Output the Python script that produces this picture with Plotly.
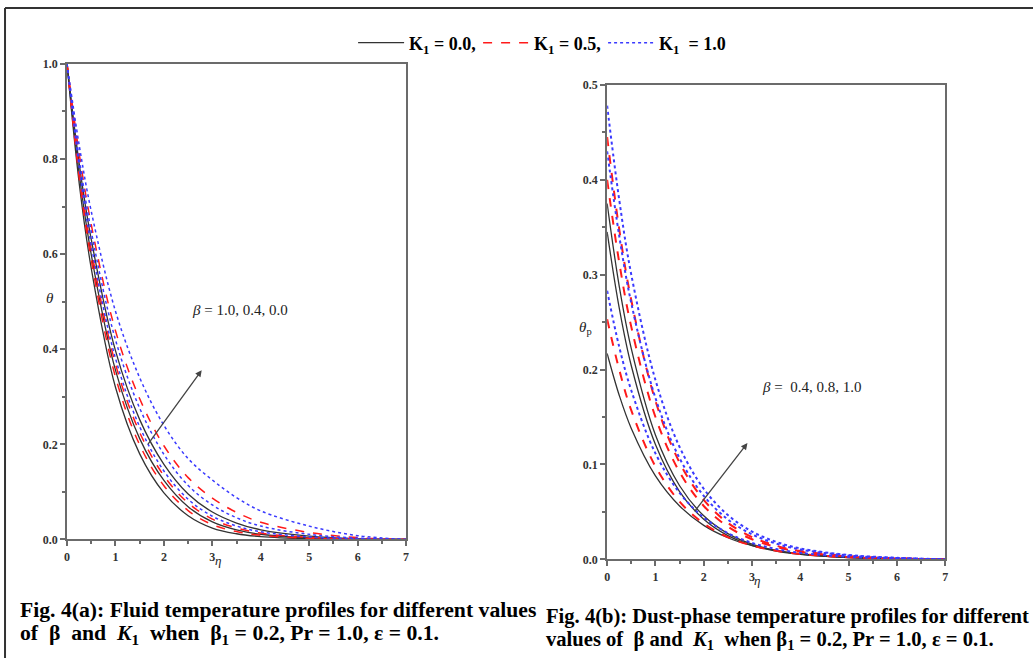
import plotly.graph_objects as go

# ---------------- data ----------------
eta = [0, 0.25, 0.5, 1, 1.5, 2, 2.5, 3, 3.5, 4, 5, 6, 7]

# Fig 4(a): fluid temperature theta, curves for beta = 1.0, 0.4, 0.0
theta_k0 = [
    [1, 0.750, 0.570, 0.320, 0.180, 0.098, 0.050, 0.024, 0.012, 0.006, 0.0015, 0.0003, 0.0],
    [1, 0.770, 0.599, 0.356, 0.212, 0.124, 0.0687, 0.0369, 0.0201, 0.0109, 0.0032, 0.0007, 0.0],
    [1, 0.791, 0.631, 0.397, 0.252, 0.158, 0.0956, 0.0576, 0.0345, 0.0203, 0.0071, 0.0017, 0.0],
]
theta_k05 = [
    [1, 0.762, 0.588, 0.342, 0.199, 0.113, 0.0608, 0.0312, 0.0165, 0.0087, 0.0024, 0.0005, 0.0],
    [1, 0.777, 0.610, 0.369, 0.225, 0.134, 0.0767, 0.0428, 0.0241, 0.0134, 0.0042, 0.0009, 0.0],
    [1, 0.812, 0.662, 0.439, 0.296, 0.197, 0.130, 0.087, 0.0568, 0.0362, 0.0147, 0.0039, 0.0],
]
theta_k1 = [
    [1, 0.783, 0.619, 0.381, 0.237, 0.144, 0.0846, 0.0488, 0.0283, 0.0161, 0.0053, 0.0012, 0.0],
    [1, 0.803, 0.648, 0.420, 0.276, 0.179, 0.1135, 0.0725, 0.0456, 0.0281, 0.0107, 0.0027, 0.0],
    [1, 0.830, 0.690, 0.480, 0.340, 0.240, 0.170, 0.125, 0.088, 0.060, 0.028, 0.008, 0.0],
]

# Fig 4(b): dust-phase temperature theta_p, curves for beta = 0.4, 0.8, 1.0
thetap_k0 = [
    [0.217, 0.173, 0.138, 0.088, 0.0563, 0.0358, 0.0228, 0.0146, 0.0093, 0.0059, 0.0024, 0.0008, 0.0],
    [0.345, 0.265, 0.204, 0.121, 0.0715, 0.0423, 0.025, 0.0148, 0.0087, 0.0052, 0.0018, 0.0006, 0.0],
    [0.375, 0.288, 0.222, 0.131, 0.0776, 0.0459, 0.0272, 0.0161, 0.0095, 0.0056, 0.002, 0.0007, 0.0],
]
thetap_k05 = [
    [0.253, 0.200, 0.157, 0.0979, 0.0608, 0.0378, 0.0235, 0.0146, 0.0091, 0.0057, 0.0022, 0.0008, 0.0],
    [0.400, 0.313, 0.245, 0.150, 0.092, 0.0563, 0.0345, 0.0212, 0.013, 0.0079, 0.003, 0.001, 0.0],
    [0.445, 0.348, 0.273, 0.167, 0.102, 0.0627, 0.0384, 0.0235, 0.0144, 0.0088, 0.0033, 0.0011, 0.0],
]
thetap_k1 = [
    [0.283, 0.224, 0.178, 0.1117, 0.0701, 0.0441, 0.0277, 0.0174, 0.0109, 0.0069, 0.0027, 0.001, 0.0],
    [0.430, 0.341, 0.270, 0.170, 0.1066, 0.067, 0.0421, 0.0264, 0.0166, 0.0104, 0.0041, 0.0015, 0.0],
    [0.478, 0.379, 0.300, 0.189, 0.1184, 0.0744, 0.0467, 0.0293, 0.0185, 0.0116, 0.0046, 0.0017, 0.0],
]

legend_names = ["K<sub>1</sub> = 0.0,", "K<sub>1</sub> = 0.5,", "K<sub>1</sub>  = 1.0"]
x_ticks = [0, 1, 2, 3, 4, 5, 6, 7]
y_ticks_a = [0.0, 0.2, 0.4, 0.6, 0.8, 1.0]
y_ticks_b = [0.0, 0.1, 0.2, 0.3, 0.4, 0.5]

# ---------------- styling ----------------
SERIF = "Liberation Serif"
styles = [
    dict(color="#333333", width=1.3, dash="solid"),
    dict(color="#ff1a1a", width=1.5, dash="dash"),
    dict(color="#3a3aff", width=1.5, dash="dot"),
]

fig = go.Figure()

groups_a = [theta_k0, theta_k05, theta_k1]
groups_b = [thetap_k0, thetap_k05, thetap_k1]

for gi, group in enumerate(groups_a):
    for ci, ys in enumerate(group):
        fig.add_trace(go.Scatter(
            x=eta, y=ys, mode="lines", line=dict(shape="spline", **styles[gi]),
            name=legend_names[gi], legendgroup=str(gi), showlegend=(ci == 0),
            xaxis="x", yaxis="y", hoverinfo="skip"))

for gi, group in enumerate(groups_b):
    for ci, ys in enumerate(group):
        st = dict(styles[gi])
        st["width"] = st["width"] + 0.5 if gi > 0 else st["width"]
        fig.add_trace(go.Scatter(
            x=eta, y=ys, mode="lines", line=dict(shape="spline", **st),
            name=legend_names[gi], legendgroup=str(gi), showlegend=False,
            xaxis="x2", yaxis="y2", hoverinfo="skip"))

W, H = 1036, 665
# small correction for how the page is captured
SX, OX = 0.994, 3.0
SY, OY = 0.982, 6.0

def px_x(p):
    return (p / SX - OX) / W

def px_y(p):
    return 1 - (p / SY - OY) / H

axis_common = dict(
    showline=True, linecolor="#6b6b6b", linewidth=2, mirror=True,
    ticks="outside", ticklen=5, tickwidth=1.5, tickcolor="#6b6b6b",
    showgrid=False, zeroline=False,
    tickfont=dict(family=SERIF, size=12, color="#333333", weight="bold"),
)

fig.update_layout(
    width=W, height=H,
    margin=dict(l=0, r=0, t=0, b=0),
    paper_bgcolor="white", plot_bgcolor="white",
    showlegend=True,
    legend=dict(orientation="h", x=px_x(353), xanchor="left", y=px_y(42), yanchor="middle",
                font=dict(family=SERIF, size=18, color="black", weight="bold"),
                bgcolor="rgba(0,0,0,0)", itemwidth=46, entrywidth=64, tracegroupgap=0),
    xaxis=dict(domain=[px_x(67), px_x(406)], range=[0, 7], tickvals=x_ticks,
               minor=dict(dtick=0.5, ticks="outside", ticklen=3, tickcolor="#6b6b6b"),
               anchor="y", **axis_common),
    yaxis=dict(domain=[px_y(540), px_y(63)], range=[0, 1.0], tickvals=y_ticks_a,
               tickformat=".1f",
               minor=dict(dtick=0.1, ticks="outside", ticklen=3, tickcolor="#6b6b6b"),
               anchor="x", **axis_common),
    xaxis2=dict(domain=[px_x(607), px_x(945)], range=[0, 7], tickvals=x_ticks,
                minor=dict(dtick=0.5, ticks="outside", ticklen=3, tickcolor="#6b6b6b"),
                anchor="y2", **axis_common),
    yaxis2=dict(domain=[px_y(560), px_y(84)], range=[0, 0.5], tickvals=y_ticks_b,
                tickformat=".1f",
                minor=dict(dtick=0.05, ticks="outside", ticklen=3, tickcolor="#6b6b6b"),
                anchor="x2", **axis_common),
)

# outer frame (left and top edges of the scanned figure box)
fig.add_shape(type="line", xref="paper", yref="paper", x0=px_x(5), x1=px_x(5), y0=0, y1=px_y(7),
              line=dict(color="#333333", width=2))
fig.add_shape(type="line", xref="paper", yref="paper", x0=px_x(5), x1=1, y0=px_y(7), y1=px_y(7),
              line=dict(color="#333333", width=2))

ann = []
def text(x, y, s, size=12, bold=False, italic=False, xanchor="center", color="#222222"):
    ann.append(dict(x=px_x(x), y=px_y(y), xref="paper", yref="paper", text=s, showarrow=False,
                    xanchor=xanchor, yanchor="middle",
                    font=dict(family=SERIF, size=size, color=color,
                              weight="bold" if bold else "normal",
                              style="italic" if italic else "normal")))

# axis labels
text(218, 561, "η", size=13, italic=True)
text(50, 298, "θ", size=15, italic=True)
text(757, 581, "η", size=13, italic=True)
text(585, 328, "<i>θ</i><sub>p</sub>", size=15)

# parameter labels
text(190, 310, "<i>β</i> = 1.0, 0.4, 0.0", size=15, xanchor="left")
text(760, 387, "<i>β</i> =  0.4, 0.8, 1.0", size=15, xanchor="left")

# captions
text(18, 611, "Fig. 4(a): Fluid temperature profiles for different values", size=21.7, bold=True,
     xanchor="left", color="black")
text(18, 635, "of  β  and  <i>K</i><sub>1</sub>  when  β<sub>1</sub> = 0.2, Pr = 1.0, ε = 0.1.", size=21.7,
     bold=True, xanchor="left", color="black")
text(544, 617, "Fig. 4(b): Dust-phase temperature profiles for different", size=20.6, bold=True,
     xanchor="left", color="black")
text(544, 641, "values of  β and  <i>K</i><sub>1</sub>  when β<sub>1</sub> = 0.2, Pr = 1.0, ε = 0.1.", size=20.6,
     bold=True, xanchor="left", color="black")

# arrows
ann.append(dict(x=2.78, y=0.356, ax=1.646, ay=0.197, xref="x", yref="y", axref="x", ayref="y",
                showarrow=True, arrowhead=2, arrowsize=1, arrowwidth=1.3, arrowcolor="#444444", text=""))
ann.append(dict(x=2.905, y=0.1226, ax=1.787, ay=0.049, xref="x2", yref="y2", axref="x2", ayref="y2",
                showarrow=True, arrowhead=2, arrowsize=1, arrowwidth=1.3, arrowcolor="#444444", text=""))

fig.update_layout(annotations=ann)

fig.write_html("out.html", config={"displayModeBar": False},
               post_script="document.body.style.margin='0px';document.body.style.overflow='hidden';")
